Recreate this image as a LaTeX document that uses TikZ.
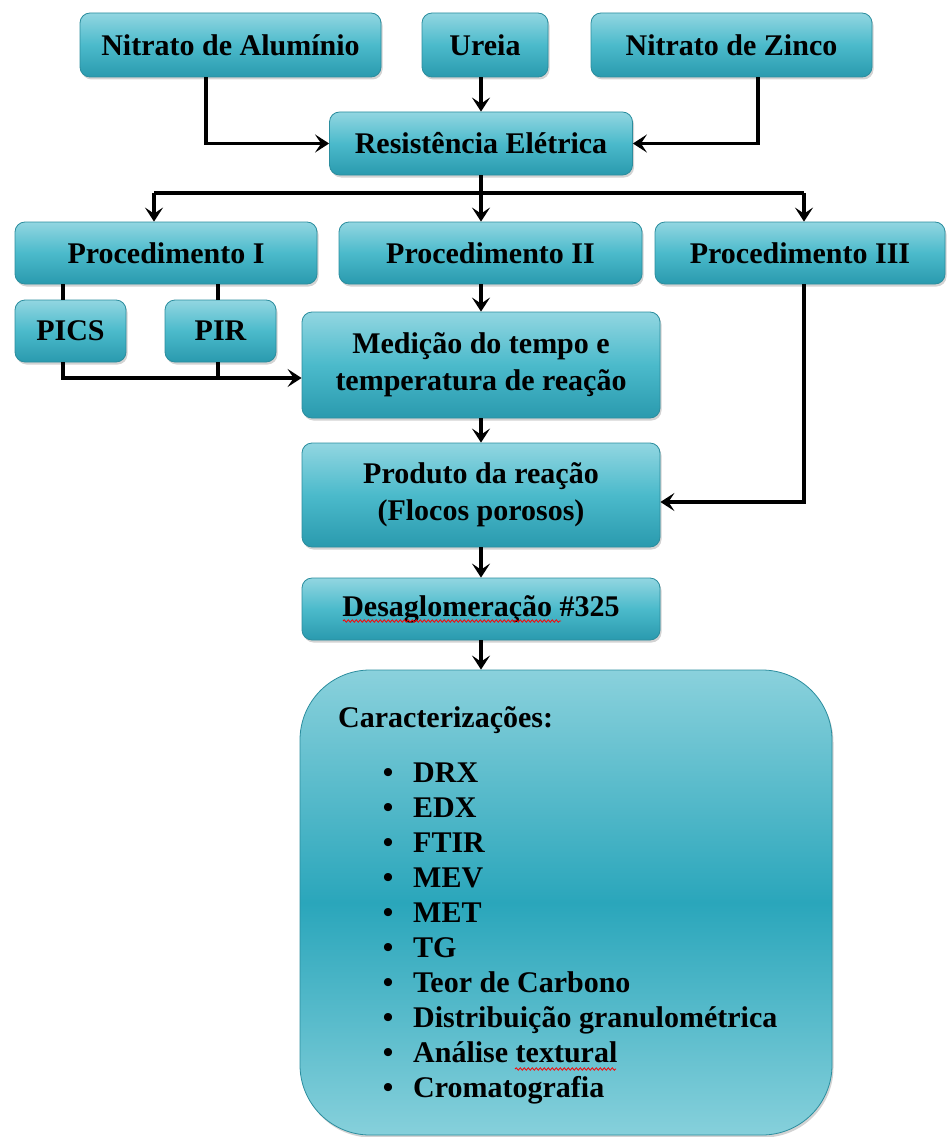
\documentclass[tikz,border=0pt]{standalone}
\usepackage{fontspec}
\setmainfont{Liberation Serif}
\usetikzlibrary{arrows.meta,shadows,positioning,calc,decorations.pathmorphing}

\definecolor{boxtop}{HTML}{92D6E1}
\definecolor{boxmid}{HTML}{4BBACB}
\definecolor{boxbot}{HTML}{2A9AAE}
\definecolor{boxedge}{HTML}{2B8D9E}
\definecolor{bigtop}{HTML}{8AD1DC}
\definecolor{bigmid}{HTML}{2AA6BB}
\definecolor{bigbot}{HTML}{86D0DB}

\tikzset{
  etapa/.style={draw=boxedge, line width=0.8pt, rounded corners=10pt,
    top color=boxtop, bottom color=boxbot, middle color=boxmid,
    drop shadow={shadow xshift=1.5pt, shadow yshift=-2.5pt, opacity=0.35},
    font=\fontsize{30}{37}\selectfont\bfseries, align=center, inner sep=0pt},
  lista/.style={font=\fontsize{30}{35}\selectfont\bfseries, inner sep=0pt},
  linha/.style={line width=3.5pt},
  seta/.style={line width=3.5pt, -{Stealth[length=14pt,width=18pt,inset=6pt]}},
  sublinhado/.style={red, line width=0.8pt, decorate,
    decoration={snake, amplitude=1.2pt, segment length=4pt}},
}

\begin{document}
\begin{tikzpicture}[x=1pt,y=-1pt]
\useasboundingbox (0,0) rectangle (948,1137);

% reagentes
\node[etapa, minimum width=301pt, minimum height=64pt] (aluminio) at (230.5,45) {Nitrato de Alumínio};
\node[etapa, minimum width=126pt, minimum height=64pt] (ureia) at (485,45) {Ureia};
\node[etapa, minimum width=281pt, minimum height=64pt] (zinco) at (731.5,45) {Nitrato de Zinco};

\node[etapa, minimum width=303pt, minimum height=63pt] (resist) at (481,143.5) {Resistência Elétrica};

% procedimentos
\node[etapa, minimum width=302pt, minimum height=62pt] (procI) at (166,253) {Procedimento I};
\node[etapa, minimum width=303pt, minimum height=62pt] (procII) at (490.5,253) {Procedimento II};
\node[etapa, minimum width=290pt, minimum height=62pt] (procIII) at (800,253) {Procedimento III};

\node[etapa, minimum width=111pt, minimum height=62pt] (pics) at (70.5,331) {PICS};
\node[etapa, minimum width=111pt, minimum height=62pt] (pir) at (220.5,331) {PIR};

\node[etapa, minimum width=358pt, minimum height=106pt] (medicao) at (481,365) {Medição do tempo e\\temperatura de reação};
\node[etapa, minimum width=358pt, minimum height=104pt] (produto) at (481,495) {Produto da reação\\(Flocos porosos)};
\node[etapa, minimum width=358pt, minimum height=62pt] (desag) at (481,609) {Desaglomeração \#325};

\node[etapa, rounded corners=70pt, top color=bigtop, bottom color=bigbot, middle color=bigmid,
  minimum width=532pt, minimum height=465pt] (carac) at (566,902.5) {};

% caracterizacoes
\node[lista, anchor=base west] (titulo) at (338,727) {Caracterizações:};
\foreach \nome [count=\i] in {DRX, EDX, FTIR, MEV, MET, TG, Teor de Carbono,
    Distribuição granulométrica, Análise textural, Cromatografia} {
  \node[lista, anchor=base] (bul\i) at (388,747+35*\i) {\textbullet};
  \node[lista, anchor=base west] (item\i) at (413,747+35*\i) {\nome};
}

% marcas do corretor
\draw[sublinhado] ($(desag.center)+(-138,12)$) -- ($(desag.center)+(80,12)$);
\draw[sublinhado] ($(item9.base west)+(102,7)$) -- ($(item9.base west)+(203,7)$);

% conectores
\draw[seta] ([xshift=-24.5pt]aluminio.south) |- (resist.west);
\draw[seta] ([xshift=26.5pt]zinco.south) |- (resist.east);
\draw[seta] (ureia.south -| resist.north) -- (resist.north);

\coordinate (ramo) at (481,193);
\coordinate (ramoI) at (154,193);
\coordinate (ramoIII) at (804,193);
\draw[linha] (resist.south) -- (ramo);
\draw[linha] (ramoI) -- (ramoIII);
\draw[seta] (ramoI) -- (ramoI |- procI.north);
\draw[seta] (ramo) -- (ramo |- procII.north);
\draw[seta] (ramoIII) -- (ramoIII |- procIII.north);

\draw[linha] ([xshift=-7.5pt]pics.north) -- ([xshift=-7.5pt]pics.north |- procI.south);
\draw[linha] ([xshift=-2.5pt]pir.north) -- ([xshift=-2.5pt]pir.north |- procI.south);

\coordinate (entrada) at ($(medicao.west)+(0,13)$);
\draw[seta] ([xshift=-7.5pt]pics.south) |- (entrada);
\draw[linha] ([xshift=-2.5pt]pir.south) -- ([xshift=-2.5pt]pir.south |- entrada);

\draw[seta] (procII.south -| medicao.north) -- (medicao.north);
\draw[seta] (medicao.south) -- (produto.north);
\draw[seta] ([xshift=4pt]procIII.south) |- ($(produto.east)+(0,7)$);
\draw[seta] (produto.south) -- (desag.north);
\draw[seta] (desag.south) -- (desag.south |- carac.north);

\end{tikzpicture}
\end{document}
